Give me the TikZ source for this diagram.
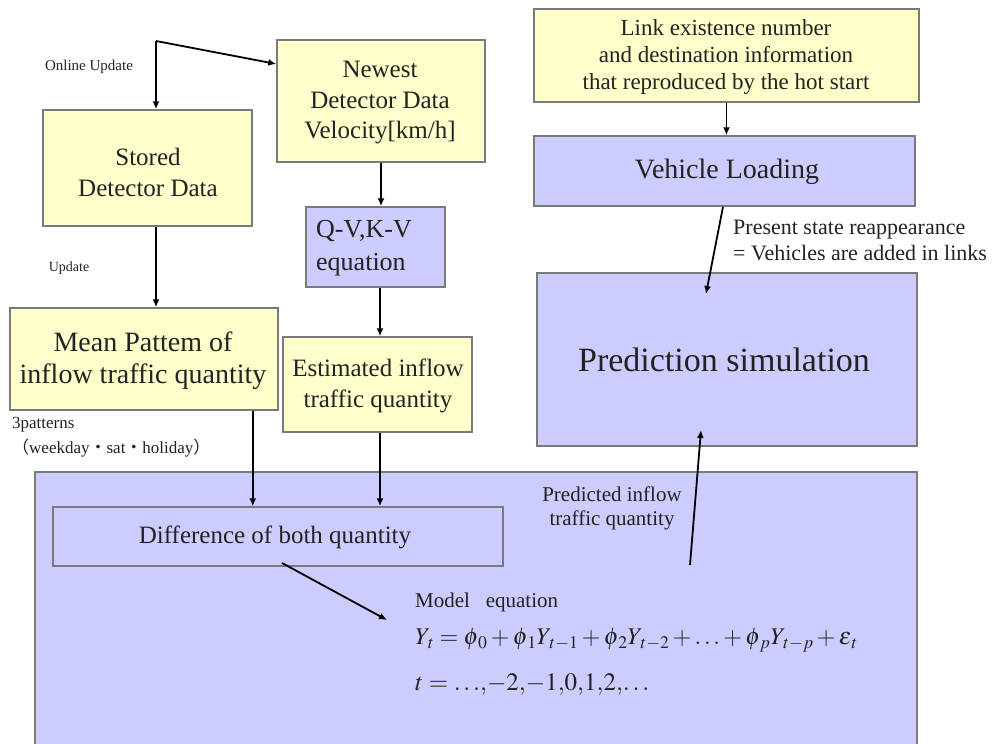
\documentclass[tikz,border=0pt]{standalone}
\usepackage{mathptmx}
\usepackage[no-math]{fontspec}
\setmainfont{Liberation Serif}
\newfontfamily\cjk{Noto Sans CJK JP}
\usetikzlibrary{arrows.meta,calc}
\definecolor{cream}{HTML}{FFFFCC}
\definecolor{lilac}{HTML}{CCCCFF}
\definecolor{rim}{HTML}{7A7A7A}
\definecolor{ink}{HTML}{222222}
\newcommand\sz[2]{\fontsize{#1}{#2}\selectfont}
% subscript pushed slightly away from its base
\newcommand\lowix[1]{_{\,#1}}
\tikzset{
  box/.style={draw=rim, line width=1.5pt, inner sep=0pt},
  ybox/.style={box, fill=cream},
  pbox/.style={box, fill=lilac},
  lbl/.style={text=ink, inner sep=0pt, align=center},
  lleft/.style={text=ink, inner sep=0pt, align=left},
  arr/.style={draw=black, line width=1.8pt, -{Latex[length=8pt,width=7pt]}},
}
\begin{document}
\begin{tikzpicture}[x=1pt,y=-1pt]
\useasboundingbox (0,0) rectangle (1005,744);

% ---- boxes ----
\node[ybox, minimum width=209, minimum height=116] (stored) at (147.5,168) {};
\node[ybox, minimum width=208, minimum height=122] (newest) at (381,101) {};
\node[pbox, minimum width=139, minimum height=80]  (qv)     at (375.5,247) {};
\node[ybox, minimum width=189, minimum height=95]  (est)    at (377.5,384.5) {};
\node[ybox, minimum width=268, minimum height=102] (mean)   at (144,359) {};
\node[ybox, minimum width=385, minimum height=93]  (link)   at (726.5,55.5) {};
\node[pbox, minimum width=381, minimum height=70]  (vload)  at (724.5,171) {};
\node[pbox, minimum width=380, minimum height=173] (pred)   at (727,359.5) {};
\node[pbox, minimum width=882, minimum height=300] (model)  at (476,622) {};
\node[pbox, minimum width=450, minimum height=59]  (diff)   at (278,536.5) {};

% ---- box texts ----
\node[lbl, font=\sz{25}{31}] (stored-t) at (148,172) {Stored\\Detector Data};
\node[lbl, font=\sz{25}{30.5}] (newest-t) at (380,103) {Newest\\Detector Data\\Velocity[km/h]};
\node[lleft, font=\sz{26}{33}, anchor=west] (qv-t) at (316,248) {Q-V,K-V\\equation};
\node[lbl, font=\sz{25}{31}] (est-t) at (378,386) {Estimated inflow\\traffic quantity};
\node[lbl, font=\sz{28}{32}] (mean-t) at (143,361) {Mean Pattem of\\inflow traffic quantity};
\node[lbl, font=\sz{23}{27}] (link-t) at (726,57) {Link existence number\\and destination information\\that reproduced by the hot start};
\node[lbl, font=\sz{28}{32}] (vload-t) at (727,172) {Vehicle Loading};
\node[lbl, font=\sz{34}{40}] (pred-t) at (724,360) {Prediction simulation};
\node[lbl, font=\sz{25}{30}] (diff-t) at (275,537) {Difference of both quantity};

% ---- free labels ----
\node[lbl, font=\sz{15}{18}] (online) at (89,67) {Online Update};
\node[lbl, font=\sz{14}{17}] (update) at (69,268) {Update};
\node[lleft, font=\sz{17}{25}, anchor=north west] (patterns) at (12,417)
  {3patterns\\{\cjk （}weekday{\cjk ・}sat{\cjk ・}holiday{\cjk ）}};
\node[lleft, font=\sz{22}{26}, anchor=west] (present) at (733,240)
  {Present state reappearance\\= Vehicles are added in links};
\node[lbl, font=\sz{21}{24}] (predin-t) at (612,508) {Predicted inflow\\traffic quantity};
\node[lleft, font=\sz{21}{24}, anchor=west] (model-t) at (415,602) {Model\ \ \ equation};
\node[lleft, font=\sz{24}{28}, anchor=west] (eq1) at (415,640)
  {$Y\lowix{t}=\phi\lowix{0}+\phi\lowix{1}Y\lowix{t-1}+\phi\lowix{2}Y\lowix{t-2}+\ldots+\phi\lowix{p}Y\lowix{t-p}+\varepsilon\lowix{t}$};
\node[lleft, font=\sz{25}{28}, anchor=west] (eq2) at (415,685)
  {$t={\ldots}{,}{-2}{,}{-1}{,}0{,}1{,}2{,}{\ldots}$};

% ---- connectors ----
\coordinate (split) at (156,41);
\draw[arr] (split) -- (split |- stored.north);
\draw[arr] (split) -- ($(newest.north west)!0.2!(newest.south west)$);
\draw[arr] (split |- stored.south) -- (split |- mean.north);
\draw[arr] (newest.south) -- (newest.south |- qv.north);
\draw[arr] ([xshift=4.5pt]qv.south) -- ([xshift=4.5pt]qv.south |- est.north);
\coordinate (meanout) at ($(mean.south east)+(-26,0)$);
\draw[arr] (meanout) -- (meanout |- diff.north);
\draw[arr] ([xshift=2.5pt]est.south) -- ([xshift=2.5pt]est.south |- diff.north);
\draw[arr] (link.south) -- (link.south |- vload.north);
\coordinate (loadin) at (706,294);
\draw[arr] ([xshift=-1.5pt]vload.south) -- (loadin);
\coordinate (forecast) at (690,565);
\coordinate (simin) at (701,430);
\draw[arr] (forecast) -- (simin);
\coordinate (diffout) at (282,563);
\coordinate (eqin) at (387,620);
\draw[arr] (diffout) -- (eqin);
\end{tikzpicture}
\end{document}
